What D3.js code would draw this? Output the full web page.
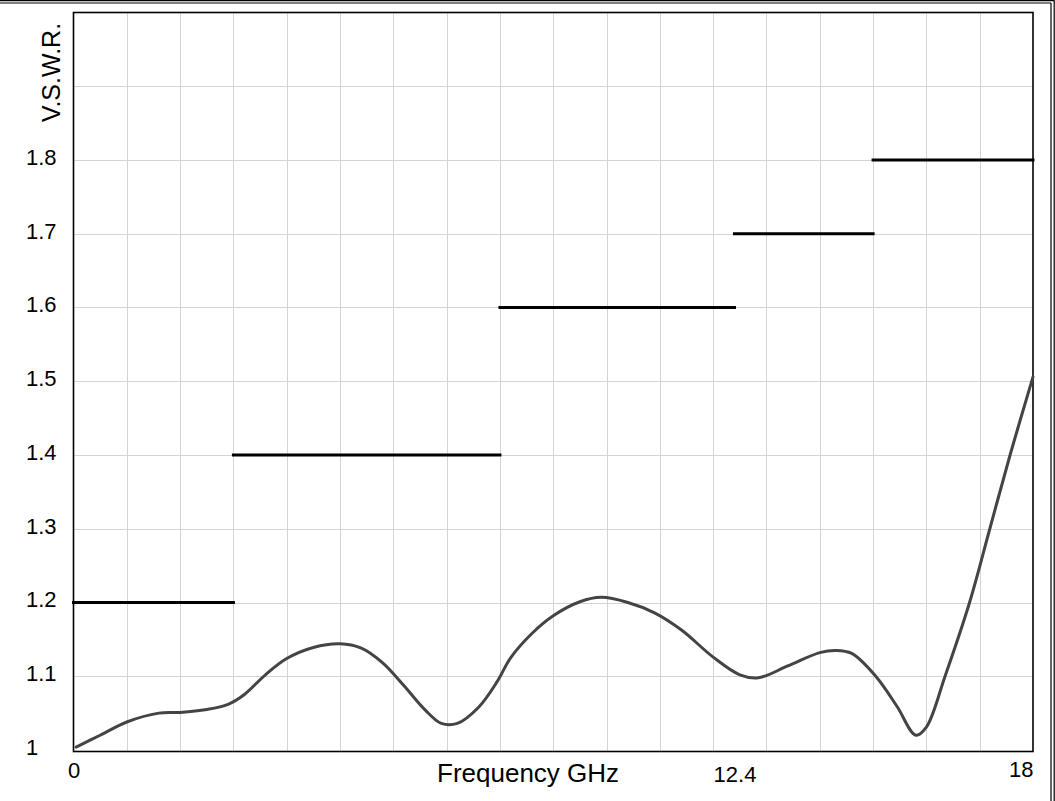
<!DOCTYPE html>
<html>
<head>
<meta charset="utf-8">
<script src="https://cdn.jsdelivr.net/npm/d3@7"></script>
<style>
  html, body { margin: 0; padding: 0; background: #fff; }
  svg { display: block; font-family: "Liberation Sans", Arial, sans-serif; }
</style>
</head>
<body>
<svg id="chart" width="1055" height="801"></svg>
<script>
// ---- data ----
const freq = [0.05, 0.5, 1.0, 1.6, 2.0, 2.5, 2.9, 3.2, 3.6, 4.0, 4.5, 5.0, 5.4, 5.8, 6.2, 6.6, 6.9, 7.2, 7.6, 7.95,
              8.2, 8.6, 9.0, 9.5, 9.9, 10.4, 10.9, 11.4, 12.0, 12.5, 12.85, 13.4, 14.0, 14.3, 14.6, 15.05, 15.45,
              15.8, 16.0, 16.35, 16.81, 17.19, 17.57, 18.0];
const vswr = [1.004, 1.020, 1.038, 1.050, 1.051, 1.055, 1.062, 1.075, 1.102, 1.124, 1.139, 1.144, 1.138, 1.118, 1.087, 1.054, 1.036, 1.036, 1.058, 1.093,
              1.125, 1.158, 1.182, 1.201, 1.207, 1.200, 1.186, 1.163, 1.126, 1.102, 1.098, 1.114, 1.132, 1.135, 1.131, 1.100, 1.059,
              1.020, 1.031, 1.100, 1.200, 1.300, 1.400, 1.506];
const specStart = [0, 3, 8, 12.4, 15];
const specEnd   = [3, 8, 12.4, 15, 18];
const specValue = [1.2, 1.4, 1.6, 1.7, 1.8];
const yTickLabels = [1, 1.1, 1.2, 1.3, 1.4, 1.5, 1.6, 1.7, 1.8];
const xTickLabels = [0, 12.4, 18];
const xGrid = d3.range(1, 18);
const yGrid = [1.1, 1.2, 1.3, 1.4, 1.5, 1.6, 1.7, 1.8, 1.9];
const xTitle = "Frequency GHz";
const yTitle = "V.S.W.R.";

// ---- layout ----
const W = 1055, H = 801;
const L = 73.5, R = 1033, T = 12.5, B = 750;
const svg = d3.select("#chart");
const x = d3.scaleLinear().domain([0, 18]).range([L, R]);
const y = d3.scaleLinear().domain([1, 2]).range([B, T]);

// outer double frame (top & right)
const outer = svg.append("g").attr("stroke", "#000").attr("stroke-width", 1.2);
outer.append("line").attr("x1", 0).attr("x2", 1054).attr("y1", 0.6).attr("y2", 0.6);
outer.append("line").attr("x1", 0).attr("x2", 1051).attr("y1", 3).attr("y2", 3);
outer.append("line").attr("x1", 1054.2).attr("x2", 1054.2).attr("y1", 0).attr("y2", H);
outer.append("line").attr("x1", 1051).attr("x2", 1051).attr("y1", 3).attr("y2", H);

// grid
const grid = svg.append("g").attr("stroke", "#d4d4d4").attr("stroke-width", 1);
grid.selectAll(".vg").data(xGrid).join("line")
  .attr("x1", d => Math.round(x(d)) + 0.5).attr("x2", d => Math.round(x(d)) + 0.5)
  .attr("y1", T).attr("y2", B + 2);
grid.selectAll(".hg").data(yGrid).join("line")
  .attr("x1", L).attr("x2", R)
  .attr("y1", d => Math.round(y(d)) + 0.5).attr("y2", d => Math.round(y(d)) + 0.5);

// frame
svg.append("rect").attr("x", L).attr("y", T).attr("width", R - L).attr("height", B + 1.5 - T)
  .attr("fill", "none").attr("stroke", "#000").attr("stroke-width", 1.6);

// spec limit lines
svg.append("g").selectAll("line").data(specValue).join("line")
  .attr("x1", (d, i) => x(specStart[i])).attr("x2", (d, i) => x(specEnd[i]))
  .attr("y1", d => y(d)).attr("y2", d => y(d))
  .attr("stroke", "#000").attr("stroke-width", 3).attr("stroke-linecap", "square");

// measured curve
const pts = freq.map((f, i) => [f, vswr[i]]);
svg.append("path").datum(pts)
  .attr("fill", "none").attr("stroke", "#444").attr("stroke-width", 3)
  .attr("stroke-linejoin", "round").attr("stroke-linecap", "round")
  .attr("d", d3.line().x(d => x(d[0])).y(d => y(d[1])).curve(d3.curveCatmullRom.alpha(0.5)));

// y axis labels
const yAxis = svg.append("g").attr("transform", `translate(${L},0)`)
  .call(d3.axisLeft(y).tickValues(yTickLabels).tickSize(0).tickFormat(d3.format("")));
yAxis.select(".domain").remove();
yAxis.selectAll("text")
  .attr("x", 26 - L).attr("dy", "0.2em").attr("text-anchor", "start")
  .attr("font-size", 22).attr("font-family", "Liberation Sans, Arial, sans-serif").attr("fill", "#000");

// x axis labels
const xAxis = svg.append("g").attr("transform", `translate(0,${B})`)
  .call(d3.axisBottom(x).tickValues(xTickLabels).tickSize(0).tickFormat(d3.format("")));
xAxis.select(".domain").remove();
xAxis.selectAll("text")
  .attr("y", d => d === 18 ? 27 : (d === 12.4 ? 32 : 28)).attr("dy", 0)
  .attr("text-anchor", d => d === 18 ? "end" : "middle")
  .attr("x", 0)
  .attr("font-size", 22).attr("font-family", "Liberation Sans, Arial, sans-serif").attr("fill", "#000");

// titles
svg.append("text").attr("x", 437).attr("y", 782)
  .attr("font-size", 26).attr("fill", "#000").text(xTitle);
svg.append("text").attr("transform", "translate(60,122) rotate(-90)")
  .attr("font-size", 25).attr("fill", "#000").text(yTitle);
</script>
</body>
</html>
